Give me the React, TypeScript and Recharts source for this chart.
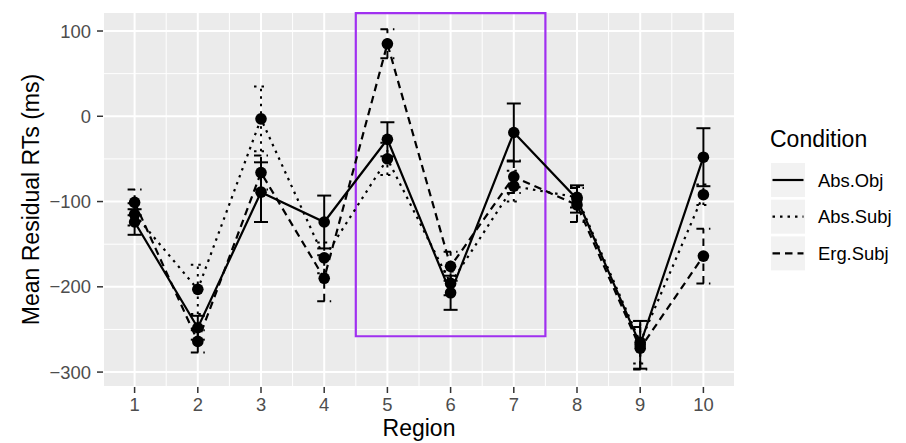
import React from 'react'
import {
  LineChart,
  Line,
  XAxis,
  YAxis,
  CartesianGrid,
  ErrorBar,
  ReferenceArea,
  Label,
} from 'recharts'

// values
const regions = [1, 2, 3, 4, 5, 6, 7, 8, 9, 10]
const absObj = [-124, -248, -89, -124, -27, -207, -19, -97, -268, -48]
const absObjErr = [15, 14, 35, 31, 20, 20, 34, 16, 28, 34]
const absSubj = [-115, -203, -3, -166, -50, -196, -82, -95, -265, -92]
const absSubjErr = [13, 29, 38, 18, 19, 14, 18, 12, 25, 12]
const ergSubj = [-101, -264, -66, -190, 85, -176, -71, -104, -272, -164]
const ergSubjErr = [15, 13, 20, 27, 17, 17, 19, 20, 25, 32]

const xTicks = [1, 2, 3, 4, 5, 6, 7, 8, 9, 10]
const xMinor = [1.5, 2.5, 3.5, 4.5, 5.5, 6.5, 7.5, 8.5, 9.5]
const yTicks = [-300, -200, -100, 0, 100]
const yMinor = [-250, -150, -50, 50]

const series = [
  { key: 'absObj', name: 'Abs.Obj', dash: undefined as string | undefined },
  { key: 'absSubj', name: 'Abs.Subj', dash: '2.5 5' },
  { key: 'ergSubj', name: 'Erg.Subj', dash: '7.5 5' },
]

const data = regions.map((r, i) => ({
  region: r,
  absObj: absObj[i],
  absObjErr: absObjErr[i],
  absSubj: absSubj[i],
  absSubjErr: absSubjErr[i],
  ergSubj: ergSubj[i],
  ergSubjErr: ergSubjErr[i],
}))

const FONT = '"Liberation Sans", Arial, Helvetica, sans-serif'
const xDomain = [0.5, 10.5]
const yDomain = [-317.5, 122.3]

const fmtY = (v: number) => (v < 0 ? '\u2212' + Math.abs(v) : String(v))

function Legend() {
  return (
    <svg
      width={146}
      height={160}
      style={{ position: 'absolute', left: 760, top: 120, fontFamily: FONT }}
    >
      <text x={10} y={27} fontSize={23} fill="#000">
        Condition
      </text>
      {series.map((s, i) => {
        const top = 43 + i * 36.7
        return (
          <g key={s.key}>
            <rect x={11} y={top} width={34} height={34} fill="#F2F2F2" />
            <line
              x1={12.5}
              x2={43.5}
              y1={top + 17}
              y2={top + 17}
              stroke="#000"
              strokeWidth={2.2}
              strokeDasharray={s.dash}
            />
            <text x={58} y={top + 17 + 6.5} fontSize={18.4} fill="#000">
              {s.name}
            </text>
          </g>
        )
      })}
    </svg>
  )
}

export default function App() {
  return (
    <div
      style={{
        position: 'absolute',
        left: 0,
        top: 0,
        width: 906,
        height: 443,
        background: '#fff',
        fontFamily: FONT,
      }}
    >
      <LineChart
        width={906}
        height={443}
        data={data}
        margin={{ top: 12, right: 171, bottom: 0, left: 0 }}
      >
        {/* hidden axes that only carry the minor grid breaks */}
        <XAxis xAxisId="minor" dataKey="region" type="number" domain={xDomain} ticks={xMinor} hide allowDataOverflow />
        <YAxis yAxisId="minor" type="number" domain={yDomain} ticks={yMinor} hide allowDataOverflow />
        <CartesianGrid
          xAxisId="minor"
          yAxisId="minor"
          fill="#EBEBEB"
          fillOpacity={1}
          stroke="#FFFFFF"
          strokeWidth={1}
        />
        <CartesianGrid stroke="#FFFFFF" strokeWidth={2} />
        <XAxis
          dataKey="region"
          type="number"
          domain={xDomain}
          ticks={xTicks}
          allowDataOverflow
          axisLine={false}
          tickSize={6}
          tickMargin={5}
          height={56}
          tickLine={{ stroke: '#333333', strokeWidth: 1.5 }}
          tick={{ fill: '#4D4D4D', fontSize: 18.4, fontFamily: FONT }}
        >
          <Label value="Region" position="insideBottom" offset={7} fill="#000" fontSize={23} fontFamily={FONT} />
        </XAxis>
        <YAxis
          type="number"
          domain={yDomain}
          ticks={yTicks}
          allowDataOverflow
          axisLine={false}
          width={103}
          tickSize={6}
          tickMargin={6}
          tickFormatter={fmtY}
          tickLine={{ stroke: '#333333', strokeWidth: 1.5 }}
          tick={{ fill: '#4D4D4D', fontSize: 18.4, fontFamily: FONT }}
        >
          <Label
            content={(props: any) => {
              const vb = props.viewBox || { y: 12, height: 375 }
              const cy = vb.y + vb.height / 2
              return (
                <text
                  transform={`translate(39, ${cy}) rotate(-90)`}
                  textAnchor="middle"
                  fontSize={23}
                  fontFamily={FONT}
                  fill="#000"
                >
                  Mean Residual RTs (ms)
                </text>
              )
            }}
          />
        </YAxis>
        <ReferenceArea
          x1={4.5}
          x2={7.5}
          y1={-258}
          y2={121}
          fill="none"
          fillOpacity={0}
          stroke="#A030F0"
          strokeWidth={2.2}
          ifOverflow="visible"
        />
        {series.map((s) => (
          <Line
            key={s.key}
            dataKey={s.key}
            name={s.name}
            type="linear"
            stroke="#000"
            strokeWidth={2.2}
            strokeDasharray={s.dash}
            dot={{ r: 5.8, fill: '#000', stroke: 'none', strokeWidth: 0 }}
            activeDot={false}
            isAnimationActive={false}
          >
            <ErrorBar
              dataKey={s.key + 'Err'}
              width={7}
              stroke="#000"
              strokeWidth={2}
              strokeDasharray={s.dash}
              isAnimationActive={false}
            />
          </Line>
        ))}
      </LineChart>
      <Legend />
    </div>
  )
}
